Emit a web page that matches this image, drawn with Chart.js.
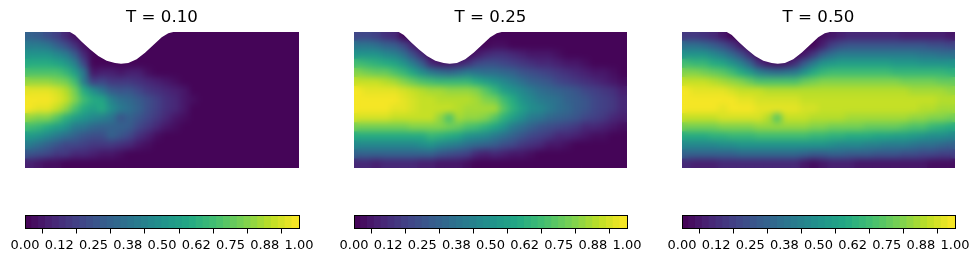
<!DOCTYPE html>
<html>
<head>
<meta charset="utf-8">
<script src="https://cdn.jsdelivr.net/npm/chart.js@4"></script>
<style>
  body { margin: 0; background: #fff; width: 980px; height: 262px; overflow: hidden; }
  canvas { position: absolute; }
</style>
</head>
<body>
<canvas id="heat0" width="324" height="175" style="left:0;top:0"></canvas>
<canvas id="heat1" width="323" height="175" style="left:329px;top:0"></canvas>
<canvas id="heat2" width="323" height="175" style="left:657px;top:0"></canvas>
<canvas id="bar0" width="324" height="57" style="left:0;top:205px"></canvas>
<canvas id="bar1" width="323" height="57" style="left:329px;top:205px"></canvas>
<canvas id="bar2" width="323" height="57" style="left:657px;top:205px"></canvas>
<script>
// panel titles
var titles = ['T = 0.10', 'T = 0.25', 'T = 0.50'];

// cell centres of the sampled grid (domain 2 x 1)
var gridX = [0.033,0.1,0.167,0.233,0.3,0.367,0.433,0.5,0.567,0.633,0.7,0.767,0.833,0.9,0.967,1.033,1.1,1.167,1.233,1.3,1.367,1.433,1.5,1.567,1.633,1.7,1.767,1.833,1.9,1.967];
var gridY = [0.967,0.9,0.833,0.767,0.7,0.633,0.567,0.5,0.433,0.367,0.3,0.233,0.167,0.1,0.033];

// values, in hundredths, top row first
var valuesT010 = [
  [30,28,24,18,10,4,0,0,0,0,0,0,0,0,0,0,0,0,0,0,0,0,0,0,0,0,0,0,0,0],
  [42,41,38,32,24,14,4,0,0,0,0,0,0,0,0,0,0,0,0,0,0,0,0,0,0,0,0,0,0,0],
  [52,52,50,47,41,29,12,1,0,0,0,0,0,0,0,0,0,0,0,0,0,0,0,0,0,0,0,0,0,0],
  [62,62,61,58,53,44,22,2,0,0,0,0,0,0,0,0,0,0,0,0,0,0,0,0,0,0,0,0,0,0],
  [72,72,72,70,65,55,38,6,8,8,6,8,8,4,0,0,0,0,0,0,0,0,0,0,0,0,0,0,0,0],
  [84,84,84,82,78,68,40,18,20,15,15,15,13,10,8,6,3,0,0,0,0,0,0,0,0,0,0,0,0,0],
  [95,96,96,94,89,78,62,48,38,28,25,25,21,17,14,11,8,5,1,0,0,0,0,0,0,0,0,0,0,0],
  [100,100,100,97,92,80,68,62,58,44,37,33,28,23,18,14,10,7,3,0,0,0,0,0,0,0,0,0,0,0],
  [98,97,95,90,83,72,62,56,60,48,40,35,30,24,18,14,10,6,2,0,0,0,0,0,0,0,0,0,0,0],
  [84,82,80,73,64,56,50,45,44,38,27,30,27,21,16,11,7,3,0,0,0,0,0,0,0,0,0,0,0,0],
  [68,65,62,56,50,42,38,34,32,30,32,28,22,16,11,6,3,0,0,0,0,0,0,0,0,0,0,0,0,0],
  [54,50,46,41,36,30,26,24,24,30,26,20,14,9,4,1,0,0,0,0,0,0,0,0,0,0,0,0,0,0],
  [42,37,32,27,22,20,18,16,16,16,14,11,7,3,0,0,0,0,0,0,0,0,0,0,0,0,0,0,0,0],
  [26,23,20,17,15,12,10,8,6,5,3,2,0,0,0,0,0,0,0,0,0,0,0,0,0,0,0,0,0,0],
  [8,6,4,3,2,1,0,0,0,0,0,0,0,0,0,0,0,0,0,0,0,0,0,0,0,0,0,0,0,0]
];
var valuesT025 = [
  [22,22,18,14,10,0,0,0,0,0,0,0,0,0,0,0,2,0,0,0,0,0,0,0,0,0,0,0,0,0],
  [38,38,36,32,28,20,8,0,0,0,0,0,0,0,0,4,3,2,1,0,0,0,0,0,0,0,0,0,0,0],
  [52,52,50,47,44,36,24,10,0,0,0,0,0,5,10,14,13,11,9,7,6,5,4,2,1,0,0,0,0,0],
  [68,66,64,62,58,52,42,28,10,6,5,8,14,20,23,24,22,19,17,14,12,10,8,6,5,3,2,1,0,0],
  [80,79,77,75,72,67,58,48,40,36,34,36,40,38,37,36,33,30,27,24,21,18,16,14,11,9,7,5,3,1],
  [92,91,90,88,86,82,76,72,68,66,66,66,66,62,56,50,45,40,36,32,28,25,22,19,16,14,11,9,7,4],
  [98,97,97,97,96,93,90,88,86,85,84,84,84,80,74,66,56,50,45,40,37,34,31,28,25,22,19,16,13,9],
  [100,100,100,99,98,96,93,91,90,89,88,88,88,85,82,78,68,60,52,46,42,38,35,32,28,25,22,19,16,12],
  [100,100,100,99,97,95,93,92,92,91,90,88,87,87,86,85,73,63,56,49,45,41,37,33,29,25,22,19,15,10],
  [93,93,93,93,92,92,92,92,90,84,70,86,84,84,80,74,64,55,48,42,38,34,31,28,25,22,19,16,12,8],
  [79,79,79,79,79,79,80,81,82,80,78,76,72,68,64,58,50,42,36,31,27,24,21,18,15,12,10,8,5,3],
  [62,62,61,60,60,60,60,62,66,64,62,58,52,48,46,42,36,30,26,22,18,15,12,10,8,6,4,3,2,1],
  [46,46,46,46,46,46,46,48,50,47,44,40,36,34,32,28,24,20,16,13,10,7,5,3,2,2,1,0,0,0],
  [30,30,30,30,30,30,30,30,30,27,24,21,18,12,8,12,9,7,5,3,2,1,0,0,0,0,0,0,0,0],
  [10,10,9,10,10,10,10,9,8,7,6,5,4,2,0,2,1,0,0,0,0,0,0,0,0,0,0,0,0,0]
];
var valuesT050 = [
  [16,16,14,11,7,2,0,0,0,0,0,0,0,0,0,3,6,9,10,10,10,10,10,10,9,9,9,8,8,7],
  [36,36,33,29,24,16,7,0,0,0,0,0,0,0,0,8,18,24,27,27,27,27,27,26,26,25,25,24,23,22],
  [52,52,50,46,41,33,23,10,0,0,0,0,0,6,16,28,36,40,42,42,42,42,42,41,41,40,39,38,37,36],
  [68,67,65,62,58,52,44,30,14,6,4,6,14,28,40,52,54,55,55,55,55,55,55,54,54,53,52,52,51,50],
  [82,81,79,76,73,68,62,54,44,38,36,38,42,52,60,66,68,68,68,68,68,68,68,67,67,67,66,65,65,64],
  [92,91,90,88,86,84,80,76,72,70,70,70,72,75,78,80,81,81,81,80,80,80,80,80,79,79,78,78,77,76],
  [98,97,97,96,95,94,92,91,90,89,88,88,88,88,88,88,89,89,89,88,88,88,88,88,88,87,87,86,85,84],
  [100,100,99,99,98,98,96,95,94,94,93,93,93,92,92,92,92,92,92,91,91,91,91,91,91,91,90,90,89,88],
  [100,99,98,98,97,98,98,98,96,96,95,95,95,94,94,92,91,91,91,90,90,90,90,90,90,90,89,88,87,85],
  [92,92,92,92,93,93,93,93,93,88,74,90,90,90,89,88,88,88,87,87,87,86,86,85,85,84,83,82,80,78],
  [78,78,78,79,80,80,81,82,84,84,84,84,84,83,82,80,79,79,78,78,77,77,76,75,74,72,70,67,64,60],
  [62,62,62,63,64,65,66,67,68,68,68,68,68,68,67,66,64,63,62,61,60,59,58,57,55,53,51,49,48,46],
  [46,46,46,47,48,49,50,51,52,52,52,52,52,52,51,50,48,47,46,45,44,43,42,41,40,38,36,35,33,32],
  [30,30,30,31,32,32,33,33,34,34,34,34,33,32,28,28,30,30,29,29,28,27,26,25,24,23,22,21,19,18],
  [10,8,8,8,10,10,10,10,10,10,10,10,10,7,4,5,8,8,8,7,7,7,6,6,6,5,5,4,4,3]
];
var panelValues = [valuesT010, valuesT025, valuesT050];

// outline of the bump cut out of the top wall
var notchX = [0.328,0.365,0.414,0.474,0.535,0.596,0.657,0.701,0.754,0.815,0.876,0.937,0.998,1.046,1.083];
var notchY = [1,0.978,0.929,0.873,0.824,0.789,0.772,0.767,0.772,0.799,0.848,0.904,0.961,0.99,1];

// colorbar
var barLevels = [0.0125,0.0375,0.0625,0.0875,0.1125,0.1375,0.1625,0.1875,0.2125,0.2375,0.2625,0.2875,0.3125,0.3375,0.3625,0.3875,0.4125,0.4375,0.4625,0.4875,0.5125,0.5375,0.5625,0.5875,0.6125,0.6375,0.6625,0.6875,0.7125,0.7375,0.7625,0.7875,0.8125,0.8375,0.8625,0.8875,0.9125,0.9375,0.9625,0.9875];
var tickValues = [0,0.125,0.25,0.375,0.5,0.625,0.75,0.875,1];
var tickLabels = ['0.00','0.12','0.25','0.38','0.50','0.62','0.75','0.88','1.00'];

var viridis = [[68,1,84],[72,36,117],[65,68,135],[53,95,141],[42,120,142],[33,145,140],[34,168,132],[68,191,112],[122,209,81],[189,223,38],[253,231,37]];

function levelColor(v) {
    // same 40 bands as the colorbar
    var t = (Math.min(39, Math.floor(v * 40)) + 0.5) / 40;
    var p = t * (viridis.length - 1);
    var i = Math.floor(p);
    var a = viridis[i], b = viridis[i + 1], f = p - i;
    return 'rgb(' + Math.round(a[0] + (b[0] - a[0]) * f) + ',' + Math.round(a[1] + (b[1] - a[1]) * f) + ',' + Math.round(a[2] + (b[2] - a[2]) * f) + ')';
}

// smooths the sampled cells: a blurred copy goes on top of them, inside the plot area
var smoothCells = {
    id: 'smoothCells',
    afterDatasetDraw: function(chart, args) {
        if (args.index !== 0) return;
        var ctx = chart.ctx, area = chart.chartArea;
        ctx.save();
        ctx.beginPath();
        ctx.rect(area.left, area.top, area.right - area.left, area.bottom - area.top);
        ctx.clip();
        ctx.filter = 'blur(3px)';
        ctx.drawImage(chart.canvas, 0, 0);
        ctx.restore();
    }
};

titles.forEach(function(title, n) {
    var points = [], colors = [];
    panelValues[n].forEach(function(row, j) {
        row.forEach(function(v, i) {
            points.push({ x: gridX[i], y: gridY[j] });
            colors.push(levelColor(v / 100));
        });
    });
    var notch = notchX.map(function(x, i) { return { x: x, y: notchY[i] }; });

    new Chart(document.getElementById('heat' + n), {
        type: 'scatter',
        data: {
            datasets: [{
                data: points,
                order: 2,
                clip: 0,
                pointStyle: 'rect',
                pointRadius: 7,
                pointBorderWidth: 0,
                pointBackgroundColor: colors
            }, {
                type: 'line',
                data: notch,
                order: 1,
                clip: 0,
                tension: 0,
                pointRadius: 0,
                borderWidth: 0,
                backgroundColor: '#fff',
                fill: 'end'
            }]
        },
        options: {
            responsive: false,
            animation: false,
            events: [],
            layout: { padding: { left: 25, right: 25, top: 0, bottom: 7 } },
            plugins: {
                legend: { display: false },
                tooltip: { enabled: false },
                title: {
                    display: true,
                    text: title,
                    color: '#000',
                    font: { family: 'DejaVu Sans', size: 16.67, weight: 'normal' },
                    padding: { top: 8, bottom: 4 }
                }
            },
            scales: {
                x: { type: 'linear', display: false, min: 0, max: 2 },
                y: { type: 'linear', display: false, min: 0, max: 1 }
            }
        },
        plugins: [smoothCells]
    });

    new Chart(document.getElementById('bar' + n), {
        type: 'bar',
        data: {
            datasets: [{
                data: barLevels.map(function(v) { return { x: v, y: 1 }; }),
                backgroundColor: barLevels.map(levelColor),
                barThickness: 7.5,
                borderWidth: 0
            }]
        },
        options: {
            responsive: false,
            animation: false,
            events: [],
            layout: { padding: { left: 25, right: 25, top: 10, bottom: 0 } },
            plugins: { legend: { display: false }, tooltip: { enabled: false } },
            scales: {
                x: {
                    type: 'linear',
                    offset: false,
                    min: 0,
                    max: 1,
                    afterBuildTicks: function(scale) {
                        scale.ticks = tickValues.map(function(v) { return { value: v }; });
                    },
                    afterFit: function(scale) { scale.height = 33.5; },
                    grid: { drawOnChartArea: false, tickLength: 5, color: '#000' },
                    border: { color: '#000', width: 1, z: 1 },
                    ticks: {
                        autoSkip: false,
                        maxRotation: 0,
                        minRotation: 0,
                        padding: 4.5,
                        color: '#000',
                        font: { family: 'DejaVu Sans', size: 13 },
                        callback: function(v, i) { return tickLabels[i]; }
                    }
                },
                xTop: {
                    type: 'linear',
                    position: 'top',
                    min: 0,
                    max: 1,
                    grid: { display: false, drawTicks: false },
                    border: { color: '#000', width: 1, z: 1 },
                    ticks: { display: false },
                    afterFit: function(scale) { scale.height = 0; }
                },
                y: {
                    min: 0,
                    max: 1,
                    grid: { display: false, drawTicks: false },
                    border: { color: '#000', width: 1, z: 1 },
                    ticks: { display: false },
                    afterFit: function(scale) { scale.width = 0; }
                },
                yRight: {
                    type: 'linear',
                    position: 'right',
                    min: 0,
                    max: 1,
                    grid: { display: false, drawTicks: false },
                    border: { color: '#000', width: 1, z: 1 },
                    ticks: { display: false },
                    afterFit: function(scale) { scale.width = 0; }
                }
            }
        }
    });
});
</script>
</body>
</html>
